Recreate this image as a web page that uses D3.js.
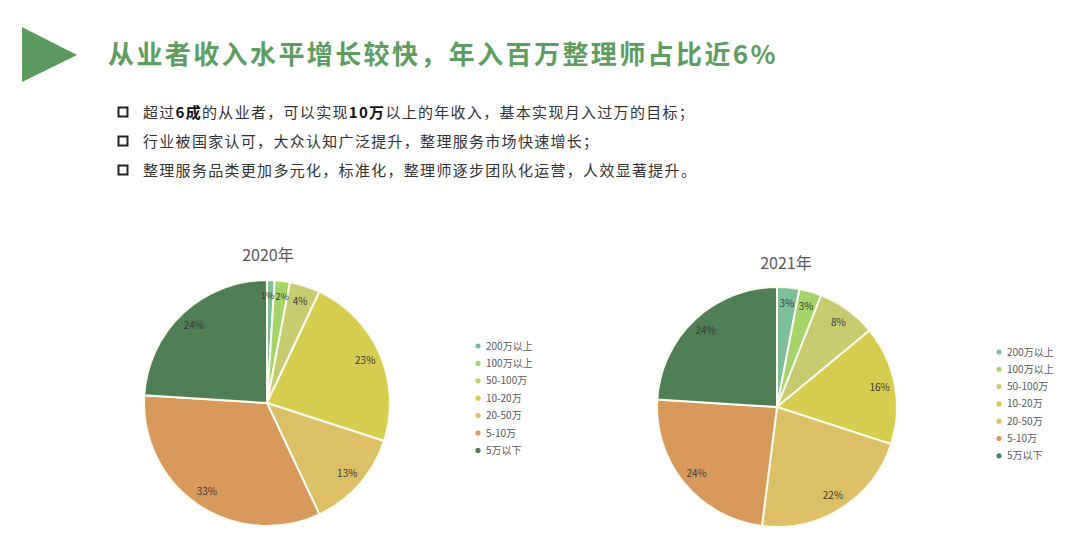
<!DOCTYPE html>
<html><head><meta charset="utf-8">
<script src="https://cdn.jsdelivr.net/npm/d3@7/dist/d3.min.js"></script>
<style>
html,body{margin:0;padding:0;background:#fff;}
svg{display:block;font-family:"Noto Sans CJK SC","Noto Sans",sans-serif;}
</style></head>
<body><svg id="c" width="1080" height="558"></svg>
<script>
const categories = ["200万以上","100万以上","50-100万","10-20万","20-50万","5-10万","5万以下"];
const values2020 = [1, 2, 4, 23, 13, 33, 24];
const values2021 = [3, 3, 8, 16, 22, 24, 24];
const colors = ["#7dbf98","#a5d46a","#c6cb70","#d6cc4e","#dcbf66","#d79a5c","#4f7f55"];
const titleText = "从业者收入水平增长较快，年入百万整理师占比近6%";
const bullets = [
  [["超过",false],["6成",true],["的从业者，可以实现",false],["10万",true],["以上的年收入，基本实现月入过万的目标；",false]],
  [["行业被国家认可，大众认知广泛提升，整理服务市场快速增长；",false]],
  [["整理服务品类更加多元化，标准化，整理师逐步团队化运营，人效显著提升。",false]]
];

const svg = d3.select("#c");

// header triangle
svg.append("path").attr("d","M22,27 L77,55 L22,82 Z").attr("fill","#5b9a5e");
svg.append("text").attr("x",108).attr("y",64).attr("fill","#5c9e60")
  .attr("font-size",26).attr("font-weight","bold").attr("letter-spacing",2.4)
  .text(titleText);

// bullets
bullets.forEach((parts,i)=>{
  const y = 113 + i*29;
  svg.append("rect").attr("x",118.5).attr("y",y-5.5).attr("width",9).attr("height",9)
    .attr("fill","none").attr("stroke","#222").attr("stroke-width",2);
  const t = svg.append("text").attr("x",143).attr("y",y+5).attr("font-size",15)
    .attr("fill","#333").attr("letter-spacing",1.3);
  parts.forEach(p=>{
    t.append("tspan").attr("font-weight",p[1]?"bold":"normal").attr("fill",p[1]?"#111":"#333").text(p[0]);
  });
});

function drawPie(cx, cy, R, vals, title, titleX, titleY, legX, legY, legStep){
  const g = svg.append("g").attr("transform",`translate(${cx},${cy})`);
  const pie = d3.pie().sort(null).value(d=>d.v);
  const data = pie(vals.map((v,i)=>({v, i})));
  const arc = d3.arc().innerRadius(0).outerRadius(R);
  const lab = d3.arc().innerRadius(R*0.87).outerRadius(R*0.87);
  g.selectAll("path.s").data(data).join("path").attr("class","s")
    .attr("d",arc).attr("fill",d=>colors[d.data.i])
    .attr("stroke","#fbfbf0").attr("stroke-width",2);
  // small neighbouring slices: split labels left/right so they do not collide
  g.selectAll("text.l").data(data).join("text").attr("class","l")
    .each(function(d){
      const [x,y] = lab.centroid(d);
      const t = d3.select(this);
      const small = d.data.v <= 2;
      if (small && d.index === 0) { t.attr("x", x+4).attr("text-anchor","end"); }
      else if (small && d.index === 1) { t.attr("x", x-5).attr("text-anchor","start"); }
      else { t.attr("x", x).attr("text-anchor","middle"); }
      t.attr("y", y).attr("font-size", small ? 9 : 10);
    })
    .attr("dy","0.35em").attr("fill","#3a3a3a")
    .text(d=>d.data.v+"%");
  svg.append("text").attr("x",titleX).attr("y",titleY).attr("text-anchor","middle")
    .attr("font-size",16).attr("fill","#595959").text(title);
  const lg = svg.append("g").attr("transform",`translate(${legX},${legY})`);
  categories.forEach((c,i)=>{
    const row = lg.append("g").attr("transform",`translate(0,${i*legStep})`);
    row.append("circle").attr("r",2.6).attr("fill",colors[i]);
    row.append("text").attr("x",8).attr("dy","0.35em").attr("font-size",10)
      .attr("fill","#595959").text(c);
  });
}

drawPie(267, 403, 123, values2020, "2020年", 268, 261, 478, 346, 17.4);
drawPie(777, 407, 120, values2021, "2021年", 786, 269, 999, 352, 17.3);
</script></body></html>
